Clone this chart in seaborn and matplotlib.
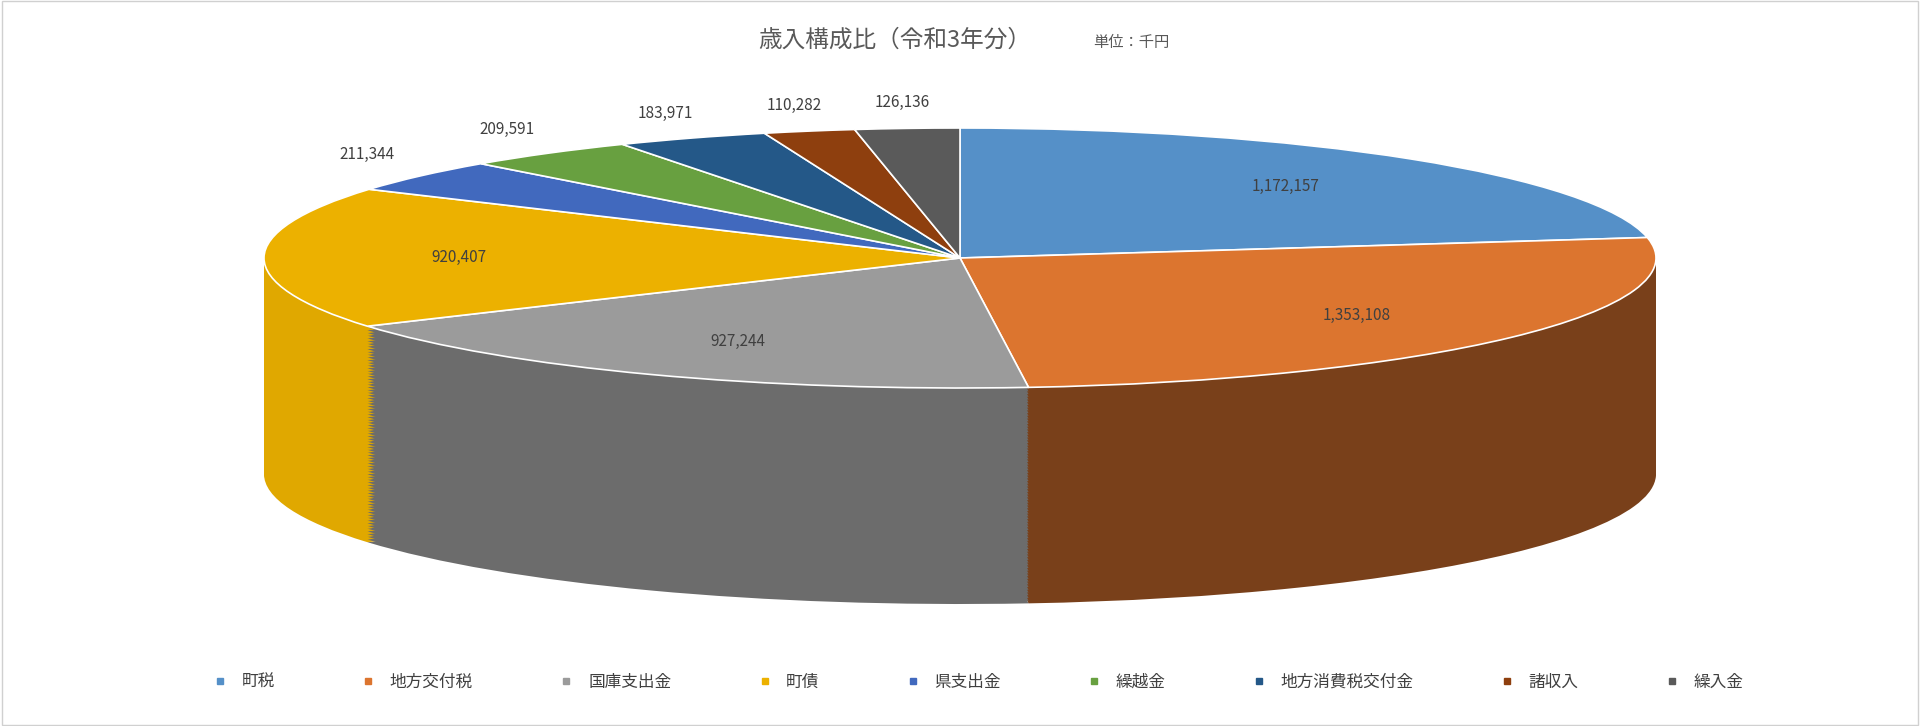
import matplotlib
matplotlib.use("Agg")
import matplotlib.pyplot as plt
import seaborn as sns
import numpy as np
from matplotlib.colors import to_rgb

sns.set_theme(style="white")
plt.rcParams["font.family"] = ["Noto Sans CJK JP", "DejaVu Sans"]

categories = ["町税", "地方交付税", "国庫支出金", "町債", "県支出金", "繰越金", "地方消費税交付金", "諸収入", "繰入金"]
values = [1172157, 1353108, 927244, 920407, 211344, 209591, 183971, 110282, 126136]
colors = ["#5590C8", "#DC752F", "#9B9B9B", "#ECB100", "#4169BE", "#68A040", "#245888", "#8E3F0E", "#5A5A5A"]

W, H = 1920, 726
fig = plt.figure(figsize=(W / 100, H / 100), dpi=100)
fig.patches.append(plt.Rectangle((0.001, 0.001), 0.998, 0.997, transform=fig.transFigure,
                                 fill=False, edgecolor="#D0D0D0", lw=1))

cx, cy, rx, ry, depth = 960, 258, 696, 130, 216
top = H - (cy - ry)
bottom = H - (cy + ry + depth)
ax = fig.add_axes([(cx - rx) / W, bottom / H, 2 * rx / W, (top - bottom) / H])
dunits = depth / ry

def darken(c, f):
    r, g, b = to_rgb(c)
    return (r * f, g * f, b * f)

side_f = [0.6, 0.55, 0.7, 0.95, 0.6, 0.6, 0.6, 0.6, 0.6]
for d in np.linspace(dunits, 0.01, 80):
    ax.pie(values, colors=[darken(c, f) for c, f in zip(colors, side_f)], startangle=90,
           counterclock=False, center=(0, -d), radius=1, frame=True, wedgeprops=dict(linewidth=0))
wedges, _ = ax.pie(values, colors=colors, startangle=90, counterclock=False, center=(0, 0),
                   radius=1, frame=True, wedgeprops=dict(linewidth=1.2, edgecolor="white"))
ax.set_aspect("auto")
ax.set_xlim(-1, 1)
ax.set_ylim(-1 - dunits, 1)
ax.axis("off")

total = sum(values)
for w, v in zip(wedges, values):
    ang = np.deg2rad((w.theta1 + w.theta2) / 2)
    small = v / total < 0.05
    r = 1.1 if small else 0.72
    ax.text(r * np.cos(ang), r * np.sin(ang) + (0.1 if small else 0), f"{v:,}",
            ha="center", va="center", fontsize=11, color="#404040")

fig.text(0.466, 0.945, "歳入構成比（令和3年分）", ha="center", va="center", fontsize=17, color="#595959")
fig.text(0.589, 0.942, "単位：千円", ha="center", va="center", fontsize=11, color="#595959")

handles = [plt.Line2D([], [], marker="s", linestyle="", markersize=5, color=c) for c in colors]
fig.legend(handles, categories, loc="center", bbox_to_anchor=(0.507, 0.06), ncol=9, frameon=False,
           fontsize=12, columnspacing=4.6, handletextpad=0.3, labelcolor="#404040")

fig.savefig("out.png", dpi=100)
